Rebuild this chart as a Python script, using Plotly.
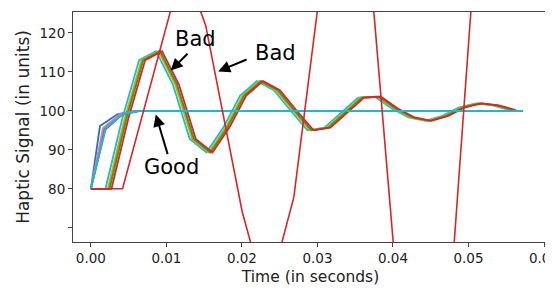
import plotly.graph_objects as go

# ---------------- data ----------------
DT = 0.00223  # sample step of the oscillating ("bad") responses
BAD_BASE = [80, 80, 98, 113, 115.3, 106.8, 92.8, 89.3, 95.7, 103.9, 107.6, 105.3,
            100.0, 95.0, 95.7, 99.6, 103.4, 103.6, 100.6, 98.3, 97.4, 98.7,
            100.9, 101.9, 101.4, 100.2]
BAD_NAMES = ["cyan-bad", "olive", "orange", "green", "red-bundle"]
BAD_DELAYS = [-0.0003, 0.0, 0.00012, 0.00025, 0.0005]
BAD_COLORS = ["#17becf", "#bcbd22", "#ff7f0e", "#2ca02c", "#d62728"]

GOOD_T_BASE = [0.0, 0.0012, 0.0035, 0.0058, 0.0572]
GOOD_NAMES = ["blue", "purple", "brown", "pink", "gray", "cyan"]
GOOD_DELAYS = [0.0, 0.0005, 0.0006, 0.0004, 0.0007, 0.0008]
GOOD_VALUES = [
    [80, 96.1, 99.1, 100, 100],
    [80, 95.4, 99.2, 100, 100],
    [80, 95.0, 99.0, 100, 100],
    [80, 95.6, 99.2, 100, 100],
    [80, 95.2, 99.1, 100, 100],
    [80, 95.7, 99.3, 100, 100],
]
GOOD_COLORS = ["#1f77b4", "#9467bd", "#8c564b", "#e377c2", "#7f7f7f", "#17becf"]

WILD_T = [0.0, 0.00419, 0.01269, 0.01454, 0.0152, 0.02005, 0.02326, 0.02687,
          0.03447, 0.04438, 0.0525, 0.0558]
WILD_V = [80, 80, 141, 125.4, 121.9, 74.0, 51.4, 77.8, 194.4, -33.8, 184, 175]

X_TICKS = [0.0, 0.01, 0.02, 0.03, 0.04, 0.05, 0.06]
Y_TICKS = [70, 80, 90, 100, 110, 120]
Y_TICK_TEXT = ["", "80", "90", "100", "110", "120"]

FONT = "DejaVu Sans"
LW = 1.8

fig = go.Figure()

for name, d, c in zip(BAD_NAMES, BAD_DELAYS, BAD_COLORS):
    ts = [0.0] + [k * DT + d for k in range(1, len(BAD_BASE))]
    fig.add_trace(go.Scatter(x=ts, y=BAD_BASE, mode="lines", name=name,
                             line=dict(color=c, width=LW), hoverinfo="skip"))

for name, d, vals, c in zip(GOOD_NAMES, GOOD_DELAYS, GOOD_VALUES, GOOD_COLORS):
    ts = [0.0] + [t + d for t in GOOD_T_BASE[1:-1]] + [GOOD_T_BASE[-1]]
    fig.add_trace(go.Scatter(x=ts, y=vals, mode="lines", name=name,
                             line=dict(color=c, width=LW), hoverinfo="skip"))

fig.add_trace(go.Scatter(x=WILD_T, y=WILD_V, mode="lines", name="wild",
                         line=dict(color="#d62728", width=1.6), hoverinfo="skip"))

# annotations: texts and arrows
texts = [("Bad", 0.01388, 118.4), ("Bad", 0.02445, 114.7), ("Good", 0.01071, 85.5)]
arrows = [((0.01057, 110.3), (0.01299, 115.0)),
          ((0.01685, 110.1), (0.02082, 113.3)),
          ((0.00859, 99.05), (0.01022, 88.5))]
ann = []
for s, x, y in texts:
    ann.append(dict(x=x, y=y, xref="x", yref="y", text=s, showarrow=False,
                    font=dict(family=FONT, size=21, color="black")))
for (hx, hy), (tx, ty) in arrows:
    ann.append(dict(x=hx, y=hy, ax=tx, ay=ty, xref="x", yref="y", axref="x", ayref="y",
                    text="", showarrow=True, arrowhead=2, arrowsize=1.2,
                    arrowwidth=2, arrowcolor="black", standoff=0))

# the page body has an 8px default margin; size the figure to compensate
fig.update_layout(
    width=545, height=281,
    margin=dict(l=65, r=5, t=4, b=47, pad=0),
    plot_bgcolor="white", paper_bgcolor="white",
    showlegend=False,
    font=dict(family=FONT, color="#222"),
    annotations=ann,
)
fig.update_xaxes(range=[-0.00237, 0.06053], tickvals=X_TICKS, tickformat=".2f",
                 automargin=False, ticklabeloverflow="allow",
                 showgrid=False, zeroline=False, showline=True, mirror=True,
                 linecolor="#444", linewidth=1, ticks="outside", ticklen=4,
                 tickcolor="#444", tickfont=dict(size=13.5, family=FONT, color="#222"),
                 title=dict(text="Time (in seconds)", standoff=5,
                            font=dict(size=15.5, family=FONT, color="#222")))
fig.update_yaxes(range=[66.36, 125.33], tickvals=Y_TICKS, ticktext=Y_TICK_TEXT,
                 automargin=False,
                 showgrid=False, zeroline=False, showline=True, mirror=True,
                 linecolor="#444", linewidth=1, ticks="outside", ticklen=4,
                 tickcolor="#444", tickfont=dict(size=13.5, family=FONT, color="#222"),
                 title=dict(text="Haptic Signal (in units)", standoff=5,
                            font=dict(size=17, family=FONT, color="#222")))

fig.write_html("out.html", config={"displayModeBar": False})
